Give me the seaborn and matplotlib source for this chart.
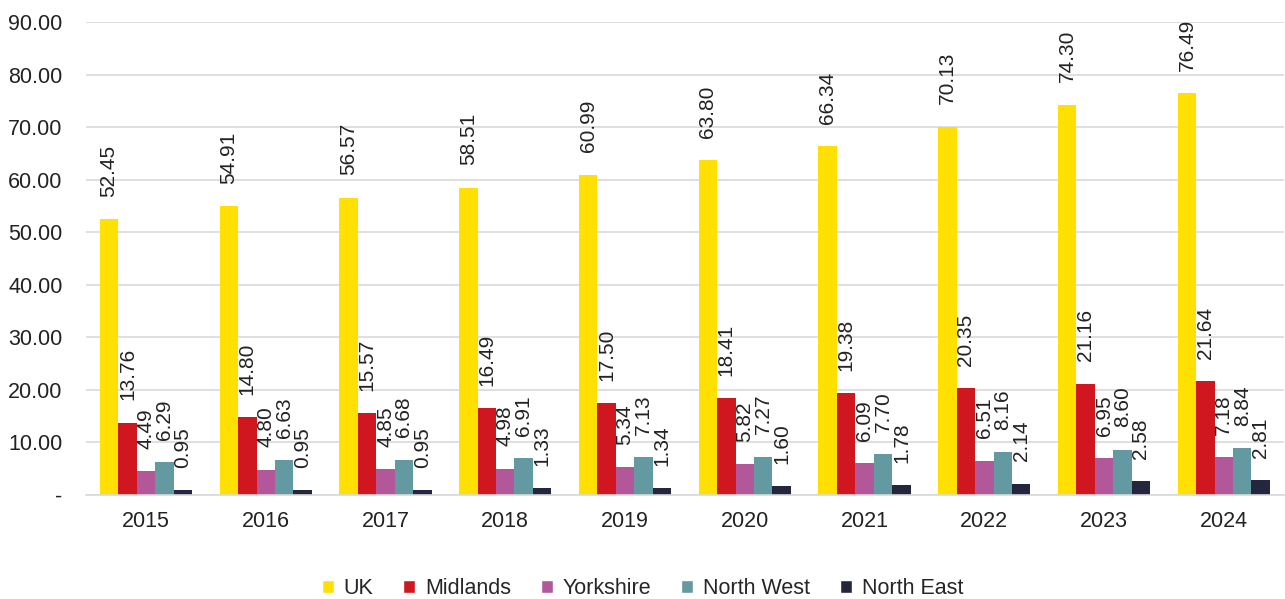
import pandas as pd
import seaborn as sns
import matplotlib.pyplot as plt
from matplotlib.patches import Patch

years = ["2015", "2016", "2017", "2018", "2019", "2020", "2021", "2022", "2023", "2024"]
uk = [52.45, 54.91, 56.57, 58.51, 60.99, 63.80, 66.34, 70.13, 74.30, 76.49]
midlands = [13.76, 14.80, 15.57, 16.49, 17.50, 18.41, 19.38, 20.35, 21.16, 21.64]
yorkshire = [4.49, 4.80, 4.85, 4.98, 5.34, 5.82, 6.09, 6.51, 6.95, 7.18]
north_west = [6.29, 6.63, 6.68, 6.91, 7.13, 7.27, 7.70, 8.16, 8.60, 8.84]
north_east = [0.95, 0.95, 0.95, 1.33, 1.34, 1.60, 1.78, 2.14, 2.58, 2.81]
regions = ["UK", "Midlands", "Yorkshire", "North West", "North East"]
colors = ["#FFE000", "#D0161E", "#B2589A", "#6399A1", "#23263D"]

series = [uk, midlands, yorkshire, north_west, north_east]
rows = []
for name, vals in zip(regions, series):
    for y, v in zip(years, vals):
        rows.append({"year": y, "region": name, "value": v})
df = pd.DataFrame(rows)

sns.set_style("white")
plt.rcParams["font.family"] = ["Liberation Sans", "DejaVu Sans"]
fs = 15.5

fig, ax = plt.subplots(figsize=(12.85, 5.99), dpi=100)
fig.subplots_adjust(left=0.067, right=0.999, top=0.963, bottom=0.174)

sns.barplot(data=df, x="year", y="value", hue="region", palette=colors,
            width=0.77, gap=0, saturation=1, errorbar=None, ax=ax, legend=False,
            linewidth=0)

# labels rotated, sitting above each bar
for cont in ax.containers:
    ax.bar_label(cont, fmt="%.2f", rotation=90, padding=16, fontsize=15, color="#222222")

ax.set_ylim(0, 90)
ax.set_xlim(-0.5, 9.5)
ticks = list(range(0, 91, 10))
ax.set_yticks(ticks)
ax.set_yticklabels(["-"] + ["%.2f" % t for t in ticks[1:]])
ax.yaxis.grid(True, color="#d9d9d9", linewidth=1.2)
ax.set_axisbelow(True)
for s in ["top", "right", "left"]:
    ax.spines[s].set_visible(False)
ax.spines["bottom"].set_color("#d9d9d9")
ax.spines["bottom"].set_linewidth(1.2)
ax.tick_params(axis="both", length=0, labelsize=fs, colors="#222222")
ax.tick_params(axis="x", pad=12)
ax.tick_params(axis="y", pad=17)
ax.set_xlabel("")
ax.set_ylabel("")

handles = [Patch(facecolor=c, label=r) for r, c in zip(regions, colors)]
fig.legend(handles=handles, loc="lower center", ncol=5, frameon=False,
           fontsize=fs, handlelength=0.55, handleheight=0.55, columnspacing=1.4,
           handletextpad=0.45, bbox_to_anchor=(0.5, -0.032))

fig.savefig("out.png", dpi=100)
